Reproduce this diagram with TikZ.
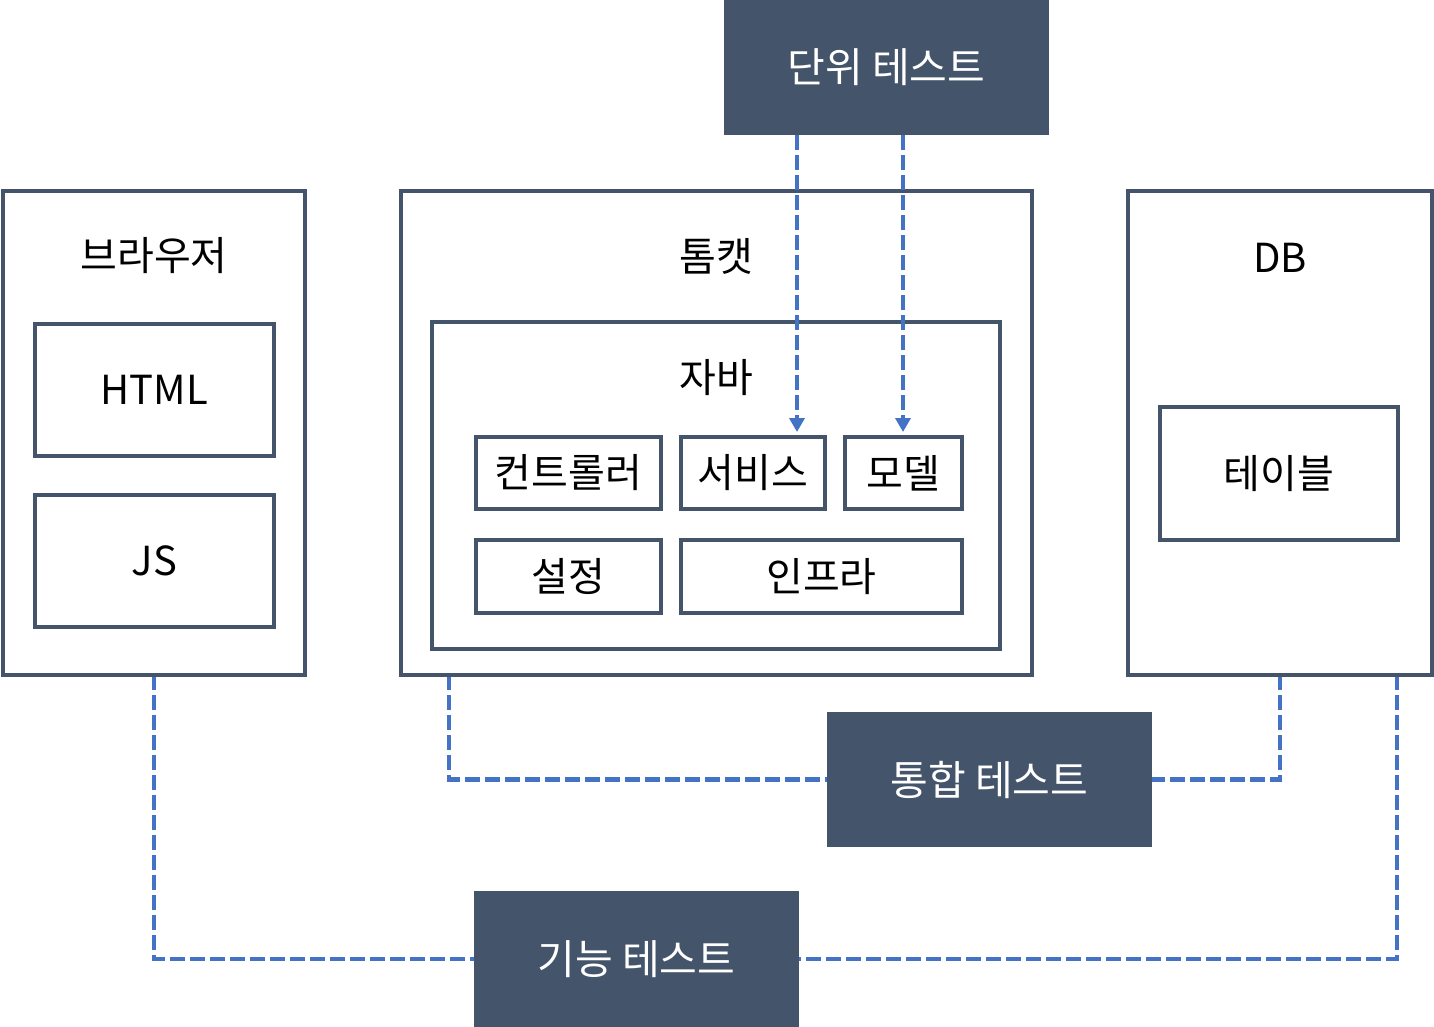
\documentclass[tikz,border=0pt]{standalone}
\usepackage{fontspec}
\setmainfont{Noto Sans CJK KR}
\usetikzlibrary{arrows.meta}
\definecolor{bord}{HTML}{44546A}
\definecolor{dashc}{HTML}{4472C4}
\begin{document}
\begin{tikzpicture}[x=1pt,y=-1pt,
  box/.style={draw=bord, line width=4pt, inner sep=0pt, outer sep=0pt, anchor=north west},
  fbox/.style={fill=bord, inner sep=0pt, outer sep=0pt, anchor=north west},
  lbl/.style={font=\fontsize{40}{44}\selectfont, text=black, inner sep=0pt},
  wlbl/.style={font=\fontsize{41}{45}\selectfont, text=white, inner sep=0pt},
  dline/.style={draw=dashc, line width=4.5pt, dash pattern=on 15pt off 5pt}]
\useasboundingbox (0,0) rectangle (1434,1027);
% connector x positions
\coordinate (u1) at (797,0);
\coordinate (u2) at (903,0);
\coordinate (i1) at (449,0);
\coordinate (i2) at (1280,0);
\coordinate (f1) at (154,0);
\coordinate (f2) at (1397,0);
% filled test boxes
\node[fbox, minimum width=325pt, minimum height=135pt] (ut) at (724,0) {};
\node[fbox, minimum width=325pt, minimum height=135pt] (it) at (827,712) {};
\node[fbox, minimum width=325pt, minimum height=136pt] (ft) at (474,891) {};
% browser
\node[box, minimum width=302.5pt, minimum height=484pt] (br) at (2.5,191) {};
\node[lbl] (brl) at (154,256) {브라우저};
\node[box, minimum width=239pt, minimum height=132pt] (html) at (35,324) {};
\node[lbl] at (html.center) {HTML};
\node[box, minimum width=239pt, minimum height=132pt] (js) at (35,495) {};
\node[lbl] at (js.center) {JS};
% tomcat
\node[box, minimum width=631pt, minimum height=484pt] (tc) at (401,191) {};
\node[lbl] (tcl) at (716,256) {톰캣};
\node[box, minimum width=568pt, minimum height=327pt] (jv) at (432,322) {};
\node[lbl] (jvl) at (716,378) {자바};
\node[box, minimum width=185pt, minimum height=72pt] (ctl) at (476,437) {};
\node[lbl] at (ctl.center) {컨트롤러};
\node[box, minimum width=144pt, minimum height=72pt] (svc) at (681,437) {};
\node[lbl] at (svc.center) {서비스};
\node[box, minimum width=117pt, minimum height=72pt] (mdl) at (845,437) {};
\node[lbl] at (mdl.center) {모델};
\node[box, minimum width=185pt, minimum height=73pt] (cfg) at (476,540) {};
\node[lbl] at (cfg.center) {설정};
\node[box, minimum width=281pt, minimum height=73pt] (inf) at (681,540) {};
\node[lbl] at (inf.center) {인프라};
% DB
\node[box, minimum width=304pt, minimum height=484pt] (db) at (1128,191) {};
\node[lbl] (dbl) at (1280,258) {DB};
\node[box, minimum width=238pt, minimum height=133pt] (tbl) at (1160,407) {};
\node[lbl] at (tbl.center) {테이블};
% unit test arrows
\draw[dline, -{Triangle[length=14pt,width=15pt,sep=0pt]}, shorten >=5pt]
  (ut.south -| u1) -- (svc.north -| u1);
\draw[dline, -{Triangle[length=14pt,width=15pt,sep=0pt]}, shorten >=5pt]
  (ut.south -| u2) -- (mdl.north -| u2);
% integration test
\draw[dline] (tc.south -| i1) |- (it.west);
\draw[dline] (db.south -| i2) |- (it.east);
% functional test
\draw[dline] (br.south -| f1) |- (ft.west);
\draw[dline] (db.south -| f2) |- (ft.east);
% redraw filled boxes on top so connectors end at their edges
\fill[bord] (ut.north west) rectangle (ut.south east);
\fill[bord] (it.north west) rectangle (it.south east);
\fill[bord] (ft.north west) rectangle (ft.south east);
\node[wlbl] at (ut.center) {단위 테스트};
\node[wlbl] at (it.center) {통합 테스트};
\node[wlbl] at (ft.center) {기능 테스트};
% redraw outer box bottoms over connector starts
\draw[bord, line width=4pt] (br.south west) -- (br.south east);
\draw[bord, line width=4pt] (tc.south west) -- (tc.south east);
\draw[bord, line width=4pt] (db.south west) -- (db.south east);
\end{tikzpicture}
\end{document}
